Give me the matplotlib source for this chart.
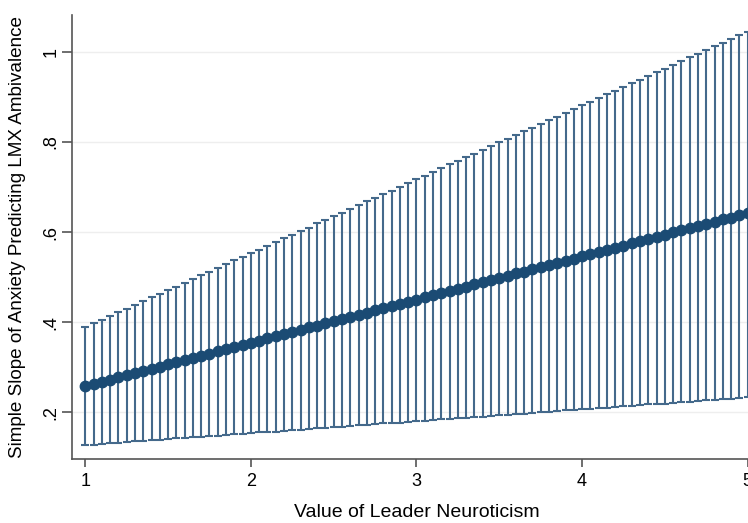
import matplotlib
matplotlib.use("Agg")
import matplotlib.pyplot as plt

neuroticism = [1.00, 1.05, 1.10, 1.15, 1.20, 1.25, 1.30, 1.35, 1.40, 1.45,
               1.50, 1.55, 1.60, 1.65, 1.70, 1.75, 1.80, 1.85, 1.90, 1.95,
               2.00, 2.05, 2.10, 2.15, 2.20, 2.25, 2.30, 2.35, 2.40, 2.45,
               2.50, 2.55, 2.60, 2.65, 2.70, 2.75, 2.80, 2.85, 2.90, 2.95,
               3.00, 3.05, 3.10, 3.15, 3.20, 3.25, 3.30, 3.35, 3.40, 3.45,
               3.50, 3.55, 3.60, 3.65, 3.70, 3.75, 3.80, 3.85, 3.90, 3.95,
               4.00, 4.05, 4.10, 4.15, 4.20, 4.25, 4.30, 4.35, 4.40, 4.45,
               4.50, 4.55, 4.60, 4.65, 4.70, 4.75, 4.80, 4.85, 4.90, 4.95,
               5.00]

slope = [0.258, 0.263, 0.268, 0.272, 0.277, 0.282, 0.287, 0.292, 0.296, 0.301,
         0.306, 0.311, 0.316, 0.320, 0.325, 0.330, 0.335, 0.340, 0.344, 0.349,
         0.354, 0.359, 0.364, 0.368, 0.373, 0.378, 0.383, 0.388, 0.392, 0.397,
         0.402, 0.407, 0.412, 0.416, 0.421, 0.426, 0.431, 0.436, 0.440, 0.445,
         0.450, 0.455, 0.460, 0.464, 0.469, 0.474, 0.479, 0.484, 0.488, 0.493,
         0.498, 0.503, 0.508, 0.512, 0.517, 0.522, 0.527, 0.532, 0.536, 0.541,
         0.546, 0.551, 0.556, 0.560, 0.565, 0.570, 0.575, 0.580, 0.584, 0.589,
         0.594, 0.599, 0.604, 0.608, 0.613, 0.618, 0.623, 0.628, 0.632, 0.637,
         0.642]

upper = [0.389, 0.397, 0.405, 0.414, 0.422, 0.430, 0.438, 0.446, 0.455, 0.463,
         0.471, 0.479, 0.487, 0.496, 0.504, 0.512, 0.520, 0.528, 0.537, 0.545,
         0.553, 0.561, 0.569, 0.578, 0.586, 0.594, 0.602, 0.610, 0.619, 0.627,
         0.635, 0.643, 0.651, 0.660, 0.668, 0.676, 0.684, 0.692, 0.701, 0.709,
         0.717, 0.725, 0.733, 0.742, 0.750, 0.758, 0.766, 0.774, 0.783, 0.791,
         0.799, 0.807, 0.815, 0.824, 0.832, 0.840, 0.848, 0.856, 0.865, 0.873,
         0.881, 0.889, 0.897, 0.906, 0.914, 0.922, 0.930, 0.938, 0.947, 0.955,
         0.963, 0.971, 0.979, 0.988, 0.996, 1.004, 1.012, 1.020, 1.029, 1.037,
         1.045]

lower = [0.127, 0.128, 0.130, 0.131, 0.132, 0.134, 0.135, 0.136, 0.138, 0.139,
         0.140, 0.142, 0.143, 0.144, 0.145, 0.147, 0.148, 0.149, 0.151, 0.152,
         0.153, 0.155, 0.156, 0.157, 0.159, 0.160, 0.161, 0.163, 0.164, 0.165,
         0.167, 0.168, 0.169, 0.171, 0.172, 0.173, 0.175, 0.176, 0.177, 0.178,
         0.180, 0.181, 0.182, 0.184, 0.185, 0.186, 0.188, 0.189, 0.190, 0.192,
         0.193, 0.194, 0.196, 0.197, 0.198, 0.200, 0.201, 0.202, 0.204, 0.205,
         0.206, 0.208, 0.209, 0.210, 0.211, 0.213, 0.214, 0.215, 0.217, 0.218,
         0.219, 0.221, 0.222, 0.223, 0.225, 0.226, 0.227, 0.229, 0.230, 0.231,
         0.233]

x_ticks = [1, 2, 3, 4, 5]
x_ticklabels = ["1", "2", "3", "4", "5"]
y_ticks = [0.2, 0.4, 0.6, 0.8, 1.0]
y_ticklabels = [".2", ".4", ".6", ".8", "1"]

plt.rcParams['font.family'] = ['Liberation Sans', 'DejaVu Sans']

fig = plt.figure(figsize=(7.48, 5.23), dpi=100)
ax = fig.add_axes([0.0963, 0.1224, 0.921, 0.849])

err_low = [s - l for s, l in zip(slope, lower)]
err_high = [u - s for s, u in zip(slope, upper)]

ax.errorbar(neuroticism, slope, yerr=[err_low, err_high], fmt='none',
            ecolor='#44698b', elinewidth=1.5, capsize=2.6, capthick=1.5, zorder=2)
ax.plot(neuroticism, slope, 'o', color='#1b4b74', markersize=7.5, zorder=3)

ax.set_xlim(0.92, 5.08)
ax.set_ylim(0.096, 1.082)
ax.set_xticks(x_ticks)
ax.set_xticklabels(x_ticklabels, fontsize=13)
ax.set_yticks(y_ticks)
ax.set_yticklabels(y_ticklabels, fontsize=13, rotation=90, va='center')
ax.yaxis.grid(True, color='#eeeeee', linewidth=1)
ax.set_axisbelow(True)

for side in ['top', 'right']:
    ax.spines[side].set_visible(False)
for side in ['left', 'bottom']:
    ax.spines[side].set_color('#555555')
    ax.spines[side].set_linewidth(1.2)
ax.tick_params(axis='x', direction='out', length=6, width=1.2, color='#555555', pad=4)
ax.tick_params(axis='y', direction='out', length=7, width=1.2, color='#555555', pad=2)

ax.set_xlabel("Value of Leader Neuroticism", fontsize=14, labelpad=10)
ax.set_ylabel("Simple Slope of Anxiety Predicting LMX Ambivalence", fontsize=13.6, labelpad=12)

fig.savefig("out.png", dpi=100)
